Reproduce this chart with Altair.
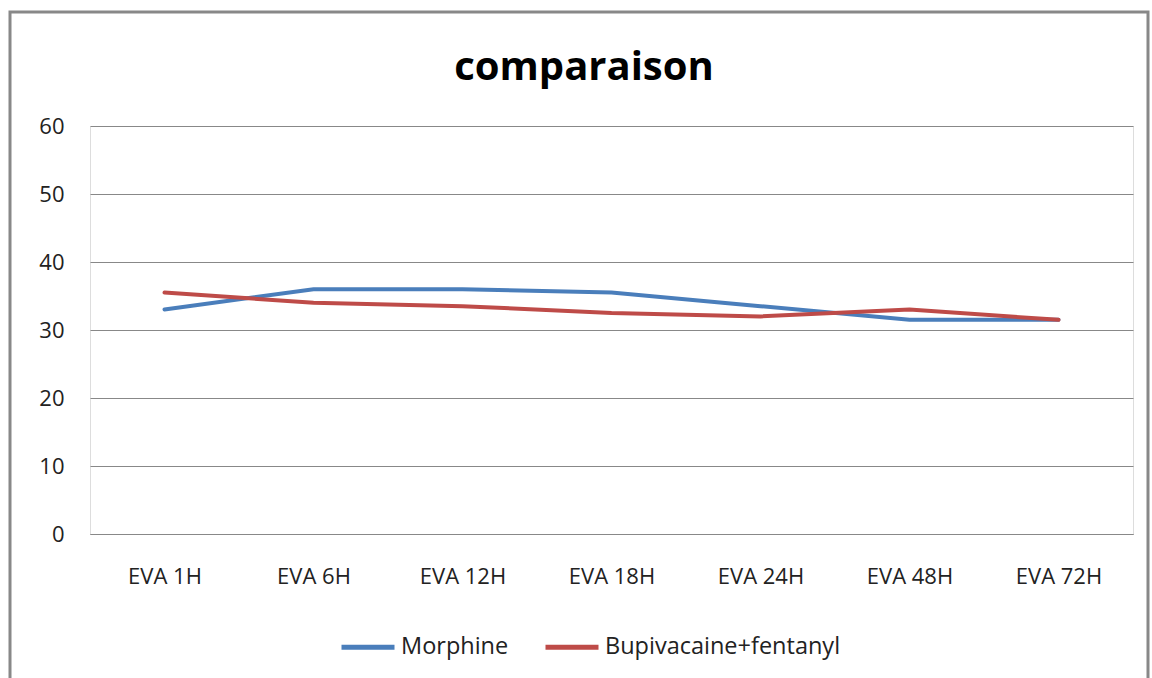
import altair as alt
import pandas as pd

categories = ["EVA 1H", "EVA 6H", "EVA 12H", "EVA 18H", "EVA 24H", "EVA 48H", "EVA 72H"]
morphine = [33.0, 36.0, 36.0, 35.5, 33.5, 31.5, 31.5]
bupi = [35.5, 34.0, 33.5, 32.5, 32.0, 33.0, 31.5]
series_names = ["Morphine", "Bupivacaine+fentanyl"]
colors = ["#4A7EBB", "#BE4B48"]
title_text = "comparaison"

rows = []
for c, v in zip(categories, morphine):
    rows.append({"cat": c, "value": v, "series": series_names[0]})
for c, v in zip(categories, bupi):
    rows.append({"cat": c, "value": v, "series": series_names[1]})
df = pd.DataFrame(rows)

FONT = "Open Sans"

lines = alt.Chart(df).mark_line(strokeWidth=4, strokeCap="round").encode(
    x=alt.X("cat:N", sort=categories, title=None,
            scale=alt.Scale(type="point", padding=0.5),
            axis=alt.Axis(labelAngle=0, ticks=False, domain=True, domainColor="#888888",
                          labelFontSize=22, labelFont=FONT, labelColor="#222222",
                          labelPadding=32, grid=False)),
    y=alt.Y("value:Q", title=None, scale=alt.Scale(domain=[0, 60]),
            axis=alt.Axis(values=[0, 10, 20, 30, 40, 50, 60], ticks=False, domain=False,
                          gridColor="#888888", gridWidth=1,
                          labelFontSize=22, labelFont=FONT, labelColor="#222222",
                          labelPadding=26)),
    color=alt.Color("series:N", sort=series_names,
                    scale=alt.Scale(domain=series_names, range=colors),
                    legend=alt.Legend(title=None, orient="none", direction="horizontal",
                                      legendX=249, legendY=492,
                                      symbolType="stroke", symbolSize=2809,
                                      symbolStrokeWidth=5,
                                      labelFontSize=23.5, labelFont=FONT, labelColor="#222222",
                                      labelOffset=4, columnPadding=26, labelLimit=500)),
)

border = alt.Chart(pd.DataFrame({"a": [0]})).mark_rect(
    fill=None, stroke="#888888", strokeWidth=3, clip=False
).encode(
    x=alt.value(-80), x2=alt.value(1058), y=alt.value(-114), y2=alt.value(700)
)

title = alt.Chart(pd.DataFrame({"t": [title_text]})).mark_text(
    font=FONT, fontSize=40, fontWeight="bold", color="#000000",
    align="center", baseline="alphabetic", clip=False
).encode(
    text="t:N", x=alt.value(494), y=alt.value(-46)
)

chart = alt.layer(border, lines, title).properties(
    width=1043, height=408,
    padding={"left": 90, "top": 126, "right": 19, "bottom": 144},
    autosize=alt.AutoSizeParams(type="none"),
).configure_view(stroke=None).configure(background="white")

chart.save("out.html", embed_options={"renderer": "svg", "actions": False})
